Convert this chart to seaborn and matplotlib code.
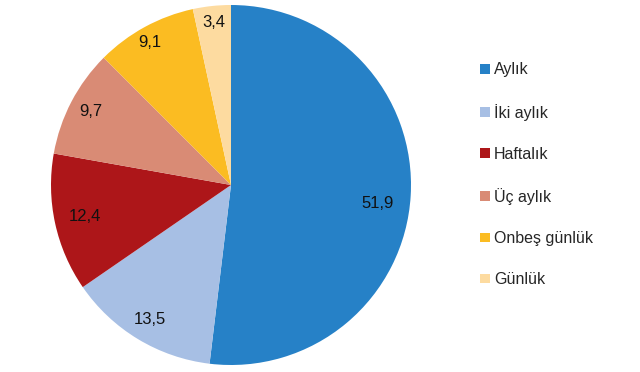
import matplotlib
matplotlib.use("Agg")
import matplotlib.pyplot as plt
from matplotlib.patches import Patch
import numpy as np
import seaborn as sns

# Data.
categories = ["Aylık", "İki aylık", "Haftalık", "Üç aylık", "Onbeş günlük", "Günlük"]
shares = [51.9, 13.5, 12.4, 9.7, 9.1, 3.4]
colors = ["#2681C7", "#A7BFE4", "#AD1619", "#D98B75", "#FBBC22", "#FDDBA0"]

# Label placement (radius fraction and angle nudge in degrees), like Excel's best fit.
label_dist = [0.82, 0.87, 0.83, 0.88, 0.91, 0.91]
label_nudge = [-3.6, 0, 0, 0, 1, 0]

sns.set_theme(style="white")
plt.rcParams["font.family"] = ["Liberation Sans", "DejaVu Sans"]

fig = plt.figure(figsize=(6.4, 3.72), dpi=100)
ax = fig.add_axes([51 / 640, 7 / 372, 360 / 640, 360 / 372])

wedges, texts = ax.pie(
    shares,
    colors=colors,
    startangle=90,
    counterclock=False,
    radius=1.0,
    labels=[f"{v:.1f}".replace(".", ",") for v in shares],
    labeldistance=0.86,
    textprops=dict(fontsize=12, color="#111111", ha="center", va="center"),
    wedgeprops=dict(linewidth=0),
)
for w, t, d, n in zip(wedges, texts, label_dist, label_nudge):
    ang = np.deg2rad((w.theta1 + w.theta2) / 2 + n)
    t.set_position((d * np.cos(ang), d * np.sin(ang)))
    t.set_ha("center")

ax.set_xlim(-1, 1)
ax.set_ylim(-1, 1)
ax.set_aspect("equal")
ax.axis("off")

# Legend on the right.
handles = [Patch(facecolor=c, edgecolor="none") for c in colors]
fig.legend(
    handles, categories,
    loc="upper left",
    bbox_to_anchor=(466 / 640, 1 - 48 / 372),
    frameon=False,
    fontsize=11.5,
    handlelength=0.6,
    handleheight=0.55,
    handletextpad=0.25,
    labelspacing=1.64,
)

fig.savefig("out.png", dpi=100)
